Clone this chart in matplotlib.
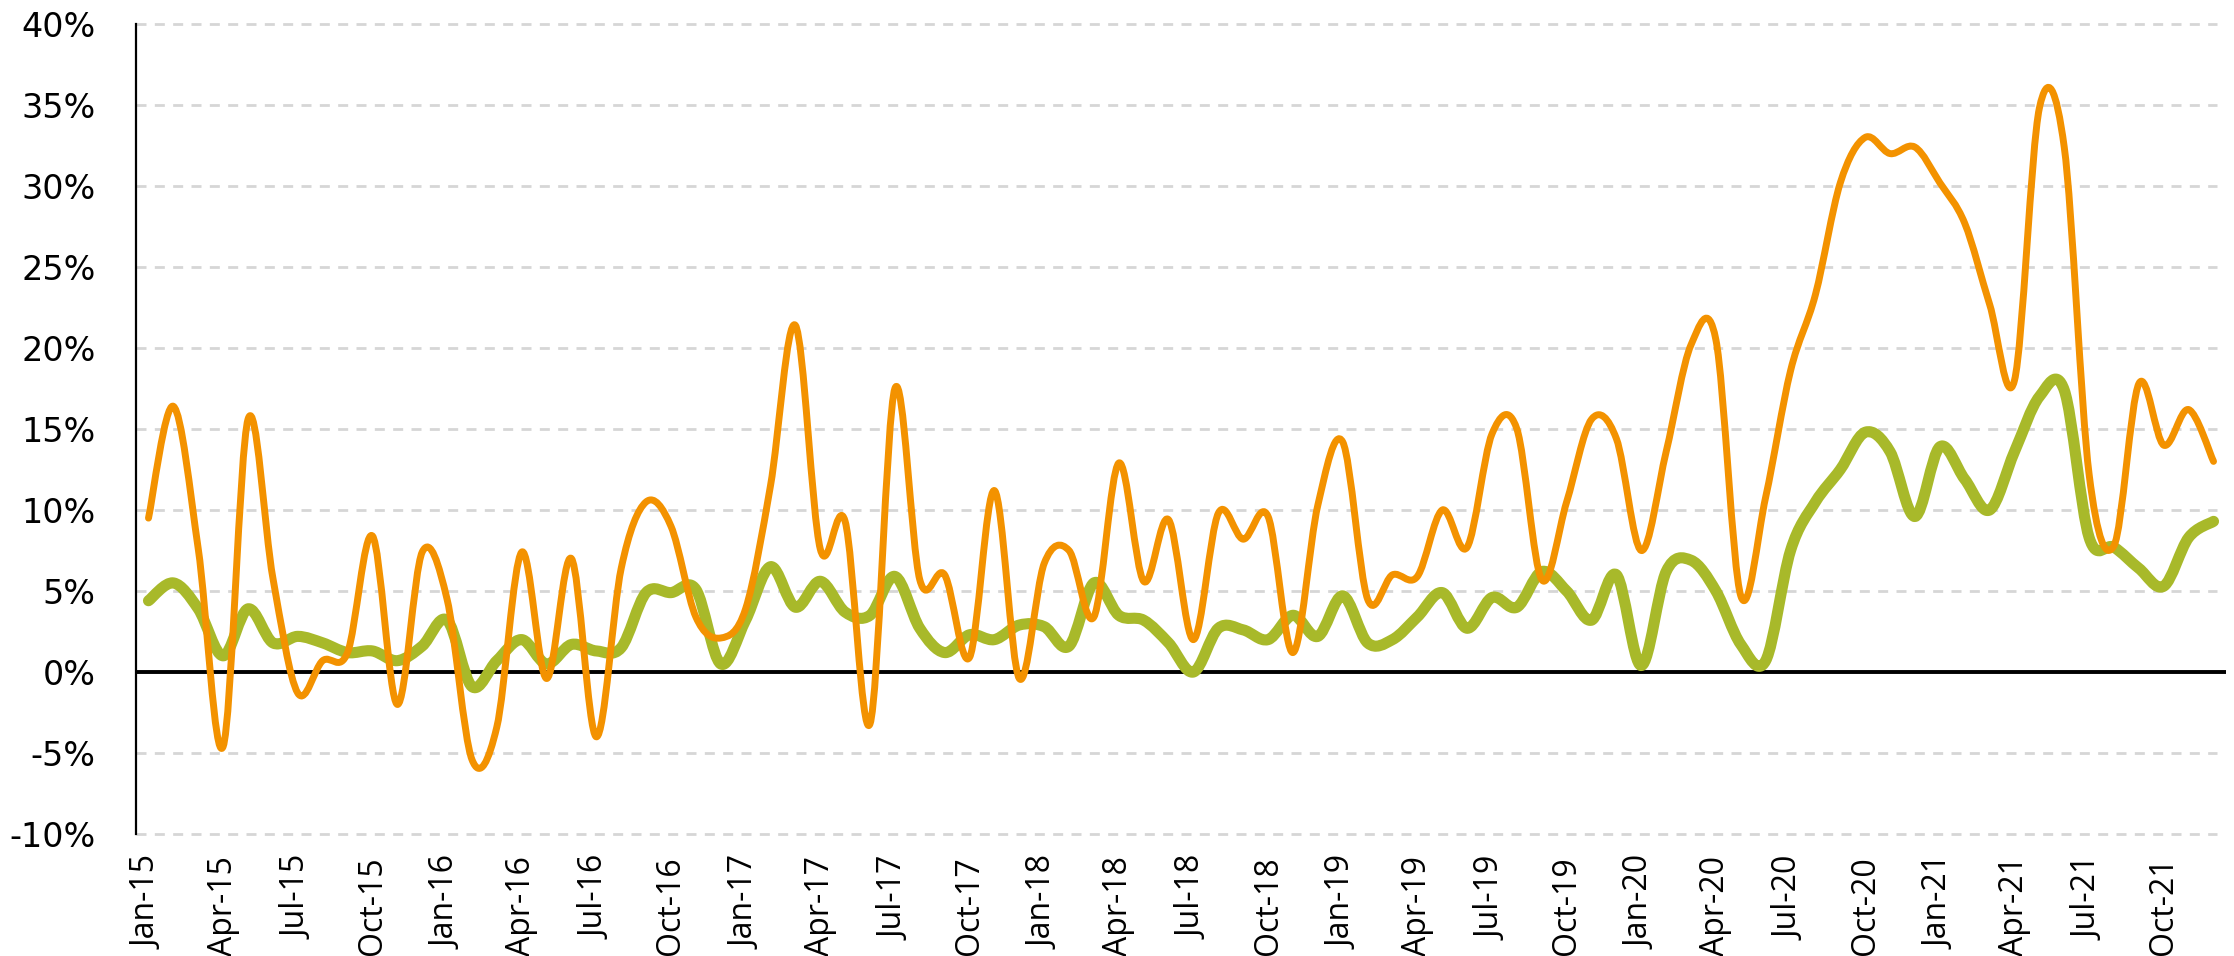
"""
Two monthly growth series, Jan-15 .. Dec-21, drawn as Excel-style smoothed lines.
"""

import matplotlib
matplotlib.use("Agg")
import matplotlib.pyplot as plt
from matplotlib.path import Path
from matplotlib.patches import PathPatch
import numpy as np

# ── data ────────────────────────────────────────────────────────────────────
month_names = ["Jan", "Feb", "Mar", "Apr", "May", "Jun",
               "Jul", "Aug", "Sep", "Oct", "Nov", "Dec"]
years = ["15", "16", "17", "18", "19", "20", "21"]
months = [f"{m}-{y}" for y in years for m in month_names]

orange_vals = [
    9.5, 16.4, 7.6, -4.6, 15.6, 5.8, -1.3, 0.7, 1.2, 8.4, -2.0, 7.4,
    4.5, -5.4, -3.4, 7.4, -0.4, 7.0, -4.0, 6.4, 10.5, 9.0, 3.4, 2.1,
    3.9, 11.5, 21.4, 7.6, 9.3, -3.2, 17.5, 5.7, 6.0, 0.9, 11.2, -0.4,
    6.7, 7.5, 3.4, 12.9, 5.6, 9.4, 2.0, 9.8, 8.2, 9.6, 1.2, 10.3,
    14.2, 4.5, 6.0, 5.9, 10.0, 7.7, 14.7, 15.0, 5.7, 10.5, 15.6, 14.4,
    7.5, 13.6, 20.2, 20.5, 4.7, 10.8, 18.6, 23.3, 30.2, 33.0, 32.0, 32.4,
    30.2, 27.7, 22.7, 18.0, 34.8, 32.4, 12.2, 7.8, 17.8, 14.0, 16.2, 13.0,
]

green_vals = [
    4.4, 5.5, 3.9, 1.0, 3.9, 1.8, 2.2, 1.8, 1.2, 1.3, 0.7, 1.6,
    3.2, -0.9, 0.7, 2.0, 0.5, 1.7, 1.3, 1.5, 4.9, 4.9, 5.1, 0.5,
    3.2, 6.5, 4.0, 5.6, 3.7, 3.5, 5.9, 2.7, 1.2, 2.3, 2.0, 2.9,
    2.8, 1.6, 5.5, 3.5, 3.2, 1.8, 0.0, 2.7, 2.6, 2.0, 3.5, 2.2,
    4.7, 1.8, 2.0, 3.4, 4.9, 2.7, 4.6, 4.0, 6.2, 5.0, 3.2, 6.0,
    0.4, 6.2, 6.9, 5.0, 1.7, 0.7, 7.5, 10.5, 12.5, 14.8, 13.6, 9.6,
    13.9, 11.9, 10.0, 13.6, 17.0, 17.4, 8.3, 7.7, 6.4, 5.3, 8.3, 9.3,
]

y_ticks = list(range(-10, 45, 5))

ORANGE = "#F39200"
GREEN = "#A8B92A"


def smooth_path(xs, ys):
    """Bezier path through every point (Excel 'smoothed line' look)."""
    n = len(xs)
    verts = [(xs[0], ys[0])]
    codes = [Path.MOVETO]
    for i in range(n - 1):
        a = i - 1 if i > 0 else i
        d = i + 2 if i + 2 < n else i + 1
        c1 = (xs[i] + (xs[i + 1] - xs[a]) / 6, ys[i] + (ys[i + 1] - ys[a]) / 6)
        c2 = (xs[i + 1] - (xs[d] - xs[i]) / 6, ys[i + 1] - (ys[d] - ys[i]) / 6)
        verts += [c1, c2, (xs[i + 1], ys[i + 1])]
        codes += [Path.CURVE4] * 3
    return Path(verts, codes)


fig = plt.figure(figsize=(22.34, 9.56), dpi=100, facecolor="white")
ax = fig.add_axes([0.0609, 0.1276, 0.9964 - 0.0609, 0.9749 - 0.1276])

x = np.arange(len(months))
ax.set_xlim(-0.5, len(months) - 0.5)
ax.set_ylim(-10, 40)

# grid + zero line
for v in y_ticks:
    if v != 0:
        ax.plot([-0.5, len(months) - 0.85], [v, v], color="#d6d6d6", lw=2.0,
                ls=(0, (3.6, 3.0)), zorder=1, clip_on=False)
ax.axhline(0, color="black", lw=2.8, zorder=2)

# series
for vals, color, lw, z in [(green_vals, GREEN, 8.0, 3), (orange_vals, ORANGE, 5.0, 4)]:
    patch = PathPatch(smooth_path(x, vals), facecolor="none", edgecolor=color,
                      lw=lw, capstyle="round", joinstyle="round", zorder=z)
    ax.add_patch(patch)

# axes styling
for side in ["top", "right", "bottom"]:
    ax.spines[side].set_visible(False)
ax.spines["left"].set_linewidth(1.6)
ax.spines["left"].set_color("black")

ax.set_yticks(y_ticks)
ax.set_yticklabels([f"{v}%" for v in y_ticks], fontsize=24, family="DejaVu Sans")
ax.tick_params(axis="y", length=0, pad=29)

tick_idx = x[::3]
ax.set_xticks(tick_idx)
ax.set_xticklabels([months[i] for i in tick_idx], rotation=90, fontsize=23,
                   family=["Open Sans", "DejaVu Sans"])
ax.tick_params(axis="x", length=0, pad=16)

fig.savefig("out.png", dpi=100, facecolor="white")
plt.close(fig)
